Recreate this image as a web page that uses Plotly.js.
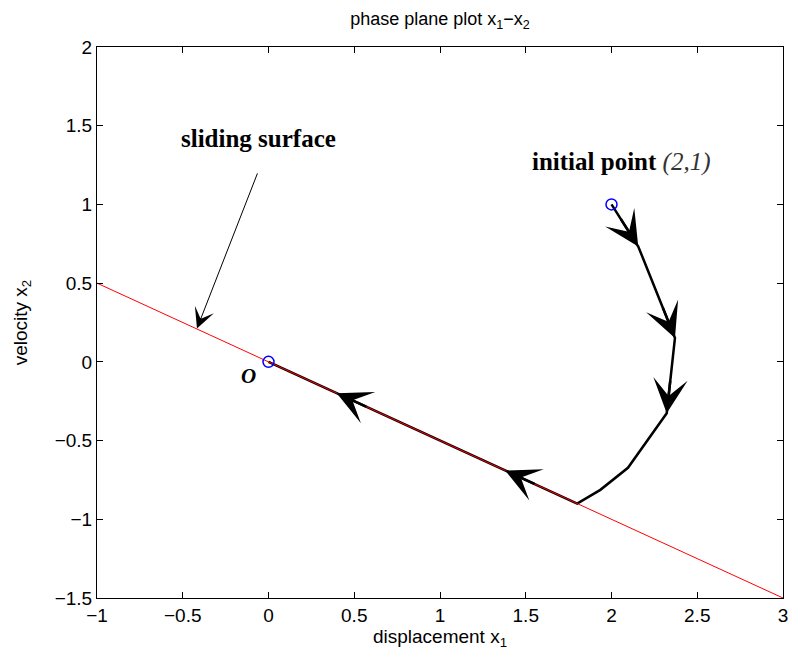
<!DOCTYPE html>
<html>
<head>
<meta charset="utf-8">
<script src="https://cdn.plot.ly/plotly-3.0.1.min.js"></script>
<style>html,body{margin:0;padding:0;background:#fff;}</style>
</head>
<body>
<div id="chart" style="width:792px;height:662px;"></div>
<script>
// Sliding surface s = x2 + 0.5*x1 = 0
var surfaceX = [-1, 3];
var surfaceY = [0.5, -1.5];

// Phase trajectory from initial point (2,1) to origin
var trajX = [2, 2.156, 2.37, 2.322, 2.096, 1.935, 1.80, 0];
var trajY = [1, 0.733, 0.152, -0.326, -0.673, -0.813, -0.90, 0];

// Direction arrows on the trajectory: tip and a previous point giving direction
var arrowTipX = [2.156, 2.37, 2.322, 1.38, 0.398];
var arrowTipY = [0.733, 0.152, -0.326, -0.69, -0.199];
var arrowFromX = [2, 2.156, 2.37, 1.80, 1.80];
var arrowFromY = [1, 0.733, 0.152, -0.90, -0.90];

// Marked points: initial point and origin
var markX = [2, 0];
var markY = [1, 0];

// Sliding surface label arrow
var labelArrowTip = [-0.417, 0.212];
var labelArrowTail = [-0.061, 1.207];

var xTicks = [-1, -0.5, 0, 0.5, 1, 1.5, 2, 2.5, 3];
var yTicks = [-1.5, -1, -0.5, 0, 0.5, 1, 1.5, 2];

var kx = 171.5, ky = 157.4; // approx px per unit, only for arrow tail direction
var annotations = [];
for (var i = 0; i < arrowTipX.length; i++) {
  var sx = (arrowTipX[i] - arrowFromX[i]) * kx;
  var sy = -(arrowTipY[i] - arrowFromY[i]) * ky;
  var n = Math.sqrt(sx * sx + sy * sy);
  annotations.push({
    x: arrowTipX[i], y: arrowTipY[i], xref: 'x', yref: 'y',
    ax: -sx / n * 34, ay: -sy / n * 34,
    text: '', showarrow: true, arrowhead: 3, arrowsize: 2.3, arrowwidth: 2.5,
    arrowcolor: '#000', standoff: 0
  });
}
annotations.push({
  x: labelArrowTip[0], y: labelArrowTip[1], xref: 'x', yref: 'y',
  ax: labelArrowTail[0], ay: labelArrowTail[1], axref: 'x', ayref: 'y',
  text: '', showarrow: true, arrowhead: 3, arrowsize: 3.4, arrowwidth: 1,
  arrowcolor: '#000', standoff: 0
});
annotations.push({
  x: -0.06, y: 1.42, xref: 'x', yref: 'y', showarrow: false,
  text: '<b>sliding surface</b>',
  font: {family: 'Liberation Serif, Times New Roman, serif', size: 25, color: '#000'}
});
annotations.push({
  x: 2.056, y: 1.27, xref: 'x', yref: 'y', showarrow: false,
  text: '<b>initial point</b> <i><span style="color:#333">(2,1)</span></i>',
  font: {family: 'Liberation Serif, Times New Roman, serif', size: 25, color: '#000'}
});
annotations.push({
  x: -0.114, y: -0.089, xref: 'x', yref: 'y', showarrow: false,
  text: '<b><i>O</i></b>',
  font: {family: 'Liberation Serif, Times New Roman, serif', size: 21, color: '#000'}
});

var traces = [
  {x: trajX, y: trajY, mode: 'lines', line: {color: '#000', width: 2.5}, hoverinfo: 'skip'},
  {x: surfaceX, y: surfaceY, mode: 'lines', line: {color: '#ff0000', width: 1}, hoverinfo: 'skip'},
  {x: markX, y: markY, mode: 'markers',
   marker: {symbol: 'circle-open', size: 11, color: '#0000ff', line: {width: 1.5, color: '#0000ff'}}}
];

var axisFont = {family: 'Liberation Sans, Arial, sans-serif', size: 19, color: '#000'};
var layout = {
  width: 792, height: 662,
  margin: {l: 97, r: 9, t: 47, b: 64},
  paper_bgcolor: '#fff', plot_bgcolor: '#fff',
  showlegend: false,
  title: {
    text: 'phase plane plot x<sub>1</sub>\u2212x<sub>2</sub>',
    x: 0.5555, xanchor: 'center', y: 0.972, yanchor: 'middle',
    font: {family: 'Liberation Sans, Arial, sans-serif', size: 18, color: '#000'}
  },
  xaxis: {
    range: [-1, 3], tickvals: xTicks, ticktext: xTicks.map(function(v){return String(v).replace('-', '\u2212');}),
    ticks: 'inside', ticklen: 6, tickcolor: '#000', mirror: 'allticks',
    showline: true, linecolor: '#000', linewidth: 1, showgrid: false, zeroline: false,
    tickfont: axisFont,
    title: {text: 'displacement x<sub>1</sub>', font: axisFont, standoff: 4}
  },
  yaxis: {
    range: [-1.5, 2], tickvals: yTicks, ticktext: yTicks.map(function(v){return String(v).replace('-', '\u2212');}),
    ticks: 'inside', ticklen: 6, tickcolor: '#000', mirror: 'allticks',
    showline: true, linecolor: '#000', linewidth: 1, showgrid: false, zeroline: false,
    tickfont: axisFont,
    title: {text: 'velocity x<sub>2</sub>', font: axisFont, standoff: 22}
  },
  annotations: annotations
};

Plotly.newPlot('chart', traces, layout, {staticPlot: true, displayModeBar: false});
</script>
</body>
</html>
